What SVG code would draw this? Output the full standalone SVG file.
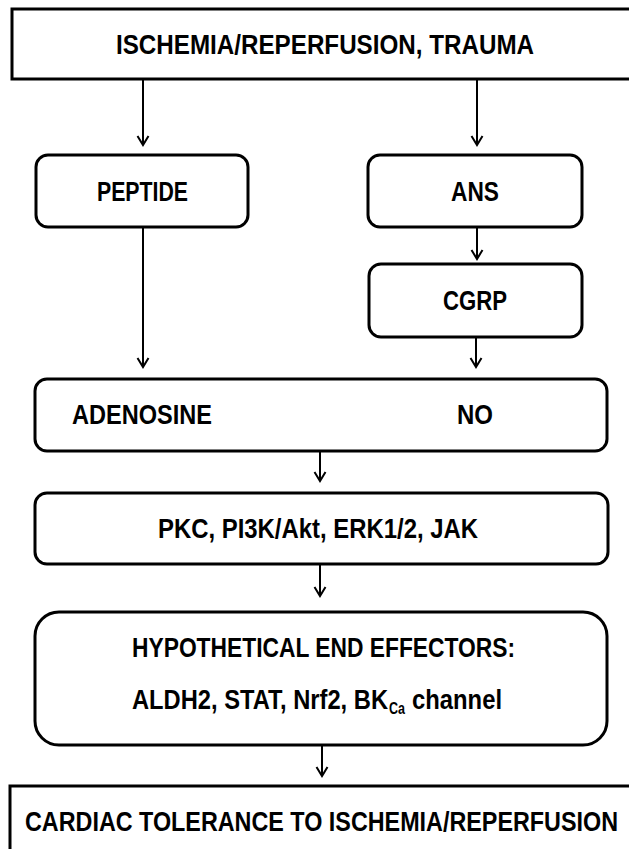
<svg xmlns="http://www.w3.org/2000/svg" width="629" height="849" viewBox="0 0 629 849">
<style>
.box{fill:#fff;stroke:#000;stroke-width:3}
.lbl{font-family:"Liberation Sans",Arial,sans-serif;font-weight:bold;font-size:27px;fill:#000}
.conn{stroke:#000;stroke-width:2;fill:none;marker-end:url(#ah)}
</style>
<defs>
<marker id="ah" markerUnits="userSpaceOnUse" markerWidth="12" markerHeight="12" refX="0" refY="0" orient="auto" overflow="visible">
<path d="M-9,-5.5 L0,0 L-9,5.5" fill="none" stroke="#000" stroke-width="2" stroke-linejoin="miter"/>
</marker>
</defs>
<rect width="629" height="849" fill="#fff"/>
<g id="connectors">
<line class="conn" x1="143" y1="79" x2="143" y2="145"/>
<line class="conn" x1="477" y1="79" x2="477" y2="145"/>
<line class="conn" x1="143" y1="227" x2="143" y2="367"/>
<line class="conn" x1="477" y1="227" x2="477" y2="259"/>
<line class="conn" x1="476" y1="337" x2="476" y2="367"/>
<line class="conn" x1="320" y1="451" x2="320" y2="481"/>
<line class="conn" x1="320" y1="564" x2="320" y2="596"/>
<line class="conn" x1="322" y1="745" x2="322" y2="776"/>
</g>
<g id="trigger">
<rect class="box" x="12" y="9" width="640" height="70"/>
<text class="lbl" x="116" y="54" font-size="28" textLength="418" lengthAdjust="spacingAndGlyphs">ISCHEMIA/REPERFUSION, TRAUMA</text>
</g>
<g id="peptide">
<rect class="box" x="36" y="155" width="212" height="72" rx="12"/>
<text class="lbl" x="97" y="201" textLength="91" lengthAdjust="spacingAndGlyphs">PEPTIDE</text>
</g>
<g id="ans">
<rect class="box" x="368" y="155" width="214" height="72" rx="12"/>
<text class="lbl" x="451" y="201" textLength="48" lengthAdjust="spacingAndGlyphs">ANS</text>
</g>
<g id="cgrp">
<rect class="box" x="369" y="264" width="213" height="73" rx="12"/>
<text class="lbl" x="443" y="310" textLength="64" lengthAdjust="spacingAndGlyphs">CGRP</text>
</g>
<g id="mediators">
<rect class="box" x="35" y="379" width="572" height="72" rx="12"/>
<text class="lbl" x="72" y="424" textLength="140" lengthAdjust="spacingAndGlyphs">ADENOSINE</text>
<text class="lbl" x="457" y="424" textLength="36" lengthAdjust="spacingAndGlyphs">NO</text>
</g>
<g id="kinases">
<rect class="box" x="35" y="493" width="573" height="71" rx="12"/>
<text class="lbl" x="158" y="538" textLength="320" lengthAdjust="spacingAndGlyphs">PKC, PI3K/Akt, ERK1/2, JAK</text>
</g>
<g id="effectors">
<rect class="box" x="35" y="612" width="572" height="133" rx="24"/>
<text class="lbl" x="132" y="657" textLength="383" lengthAdjust="spacingAndGlyphs">HYPOTHETICAL END EFFECTORS:</text>
<text class="lbl" y="709"><tspan x="132" textLength="256" lengthAdjust="spacingAndGlyphs">ALDH2, STAT, Nrf2, BK</tspan><tspan x="389" dy="5" font-size="16" textLength="16" lengthAdjust="spacingAndGlyphs">Ca</tspan><tspan x="412" dy="-5" textLength="90" lengthAdjust="spacingAndGlyphs">channel</tspan></text>
</g>
<g id="outcome">
<rect class="box" x="10" y="786" width="650" height="100"/>
<text class="lbl" x="25" y="831" textLength="593" lengthAdjust="spacingAndGlyphs">CARDIAC TOLERANCE TO ISCHEMIA/REPERFUSION</text>
</g>
</svg>
